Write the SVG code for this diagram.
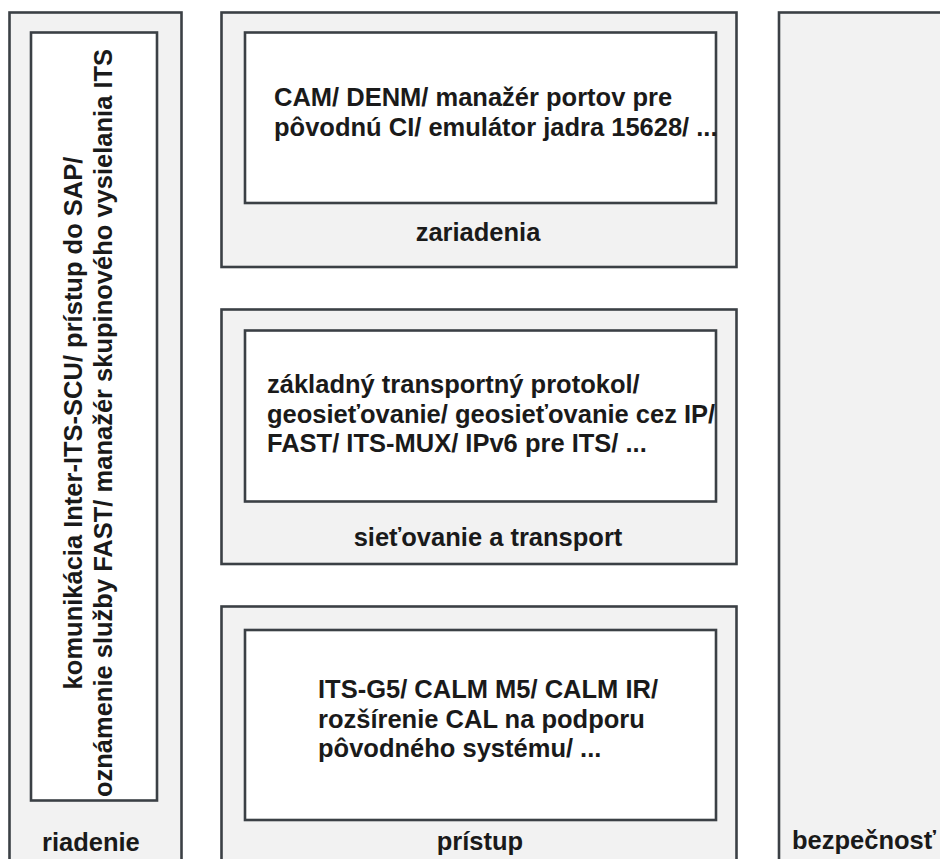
<svg xmlns="http://www.w3.org/2000/svg" width="940" height="859" viewBox="0 0 940 859">
<style>
.outer{fill:#f2f2f2;stroke:#3b4045;stroke-width:2.6}
.inner{fill:#ffffff;stroke:#3b4045;stroke-width:2.6}
text{font-family:"Liberation Sans",Arial,sans-serif;font-weight:bold;font-size:25.5px;fill:#1a1a1a}
.c{text-anchor:middle}
</style>
<rect x="0" y="0" width="940" height="859" fill="#ffffff"/>
<g id="riadenie">
<rect class="outer" x="9.5" y="12.5" width="172" height="870"/>
<rect class="inner" x="31" y="32.5" width="126" height="768"/>
<text class="c" transform="translate(82,423) rotate(-90)">komunikácia Inter-ITS-SCU/ prístup do SAP/</text>
<text class="c" transform="translate(112,423) rotate(-90)">oznámenie služby FAST/ manažér skupinového vysielania ITS</text>
<text x="42" y="851">riadenie</text>
</g>
<g id="zariadenia">
<rect class="outer" x="221.5" y="12.5" width="515" height="254.5"/>
<rect class="inner" x="245" y="32.5" width="471" height="170.5"/>
<text x="274" y="106">CAM/ DENM/ manažér portov pre</text>
<text x="274" y="136">pôvodnú CI/ emulátor jadra 15628/ ...</text>
<text class="c" x="478" y="241">zariadenia</text>
</g>
<g id="sietovanie">
<rect class="outer" x="221.5" y="309.5" width="515" height="254.5"/>
<rect class="inner" x="245" y="330.5" width="471" height="171"/>
<text x="267" y="393">základný transportný protokol/</text>
<text x="267" y="423">geosieťovanie/ geosieťovanie cez IP/</text>
<text x="267" y="452">FAST/ ITS-MUX/ IPv6 pre ITS/ ...</text>
<text class="c" x="488" y="546">sieťovanie a transport</text>
</g>
<g id="pristup">
<rect class="outer" x="221.5" y="606.5" width="515" height="280"/>
<rect class="inner" x="245" y="630" width="471" height="190"/>
<text x="318" y="698">ITS-G5/ CALM M5/ CALM IR/</text>
<text x="318" y="728">rozšírenie CAL na podporu</text>
<text x="318" y="757">pôvodného systému/ ...</text>
<text class="c" x="480" y="850">prístup</text>
</g>
<g id="bezpecnost">
<rect class="outer" x="779" y="12.5" width="200" height="870"/>
<text x="792" y="849">bezpečnosť</text>
</g>
<g id="connectors"></g>
</svg>
